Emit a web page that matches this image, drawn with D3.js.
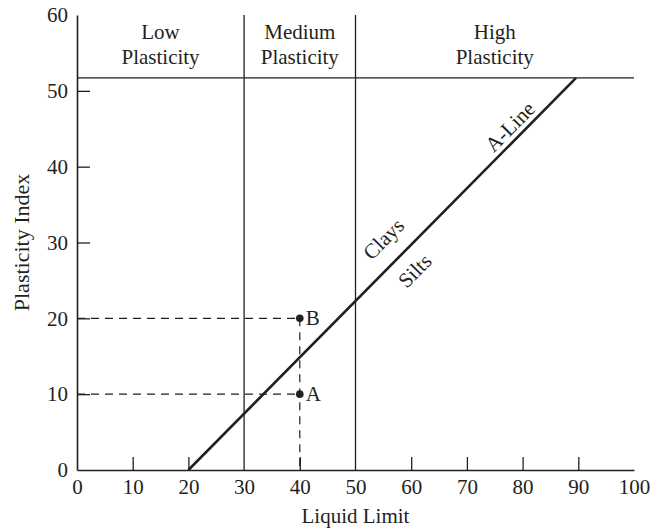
<!DOCTYPE html>
<html><head><meta charset="utf-8">
<script src="https://cdn.jsdelivr.net/npm/d3@7"></script>
<style>body{margin:0;background:#fff}svg{display:block}text{font-family:"Liberation Serif","Times New Roman",serif;fill:#231f20}</style>
</head><body><div id="chart"></div>
<script>
const xTicks = [0,10,20,30,40,50,60,70,80,90,100];
const yTicks = [0,10,20,30,40,50,60];
const zoneBounds = [30, 50];
const zoneLabels = [{lines:["Low","Plasticity"], ll:15},{lines:["Medium","Plasticity"], ll:40},{lines:["High","Plasticity"], ll:75}];
const zoneTopPI = 51.7;
const aLine = [{ll:20, pi:0},{ll:89.6, pi:51.7}];
const points = [{name:"A", ll:40, pi:10},{name:"B", ll:40, pi:20}];
const lineLabels = [{text:"Clays", ll:55.0, pi:30.5},{text:"Silts", ll:60.6, pi:26.3},{text:"A-Line", ll:77.7, pi:45.3}];

(function(){
const W=652,H=529;
const FS=21;
const svg=d3.select("#chart").append("svg").attr("width",W).attr("height",H);
const x=d3.scaleLinear().domain([0,100]).range([77,634]);
const y=d3.scaleLinear().domain([0,60]).range([470,15]);
const ink="#231f20";

svg.append("line").attr("x1",x(0)).attr("x2",x(100)).attr("y1",y(zoneTopPI)).attr("y2",y(zoneTopPI)).attr("stroke",ink).attr("stroke-width",1.3);
zoneBounds.forEach(b=>svg.append("line").attr("x1",x(b)).attr("x2",x(b)).attr("y1",y(0)).attr("y2",y(60)).attr("stroke",ink).attr("stroke-width",1.3));

const xAxis=d3.axisBottom(x).tickValues(xTicks).tickSizeInner(-13).tickSizeOuter(0).tickPadding(9);
const gx=svg.append("g").attr("transform",`translate(0,${y(0)})`).call(xAxis);
const yAxis=d3.axisLeft(y).tickValues(yTicks).tickSizeInner(-13).tickSizeOuter(0).tickPadding(9);
const gy=svg.append("g").attr("transform",`translate(${x(0)},0)`).call(yAxis);
[gx,gy].forEach(g=>{g.selectAll("path.domain").attr("stroke",ink).attr("stroke-width",1.6);g.selectAll("line").attr("stroke",ink).attr("stroke-width",1.3);g.selectAll("text").attr("font-size",FS).attr("font-family","Liberation Serif").attr("fill",ink);});
gy.selectAll(".tick").filter(d=>d===0||d===60).select("line").remove();
gx.selectAll(".tick").filter(d=>d===0||d===30||d===50||d===100).select("line").remove();

svg.append("text").attr("x",x(50)).attr("y",523).attr("text-anchor","middle").attr("font-size",FS).text("Liquid Limit");
svg.append("text").attr("transform",`translate(29,${(y(0)+y(60))/2}) rotate(-90)`).attr("text-anchor","middle").attr("font-size",22).text("Plasticity Index");

zoneLabels.forEach(z=>{
  z.lines.forEach((t,i)=>svg.append("text").attr("x",x(z.ll)).attr("y",39+i*25).attr("text-anchor","middle").attr("font-size",FS).text(t));
});

svg.append("path").datum(aLine).attr("d",d3.line().x(d=>x(d.ll)).y(d=>y(d.pi))).attr("stroke",ink).attr("stroke-width",2.6).attr("fill","none");

points.forEach(p=>{
  svg.append("line").attr("x1",x(0)).attr("x2",x(p.ll)).attr("y1",y(p.pi)).attr("y2",y(p.pi)).attr("stroke",ink).attr("stroke-width",1.2).attr("stroke-dasharray","8,6");
});
const maxPI=d3.max(points,p=>p.pi);
svg.append("line").attr("x1",x(40)).attr("x2",x(40)).attr("y1",y(maxPI)).attr("y2",y(0)).attr("stroke",ink).attr("stroke-width",1.2).attr("stroke-dasharray","8,6");
points.forEach(p=>{
  svg.append("circle").attr("cx",x(p.ll)).attr("cy",y(p.pi)).attr("r",3.8).attr("fill",ink);
  svg.append("text").attr("x",x(p.ll)+6).attr("y",y(p.pi)+7).attr("font-size",FS).text(p.name);
});

const ang=Math.atan2(y(aLine[0].pi)-y(aLine[1].pi), x(aLine[1].ll)-x(aLine[0].ll))*180/Math.PI;
lineLabels.forEach(l=>{
  svg.append("text").attr("transform",`translate(${x(l.ll)},${y(l.pi)}) rotate(${-ang})`).attr("text-anchor","middle").attr("dy","0.35em").attr("font-size",FS).text(l.text);
});
})();
</script></body></html>
